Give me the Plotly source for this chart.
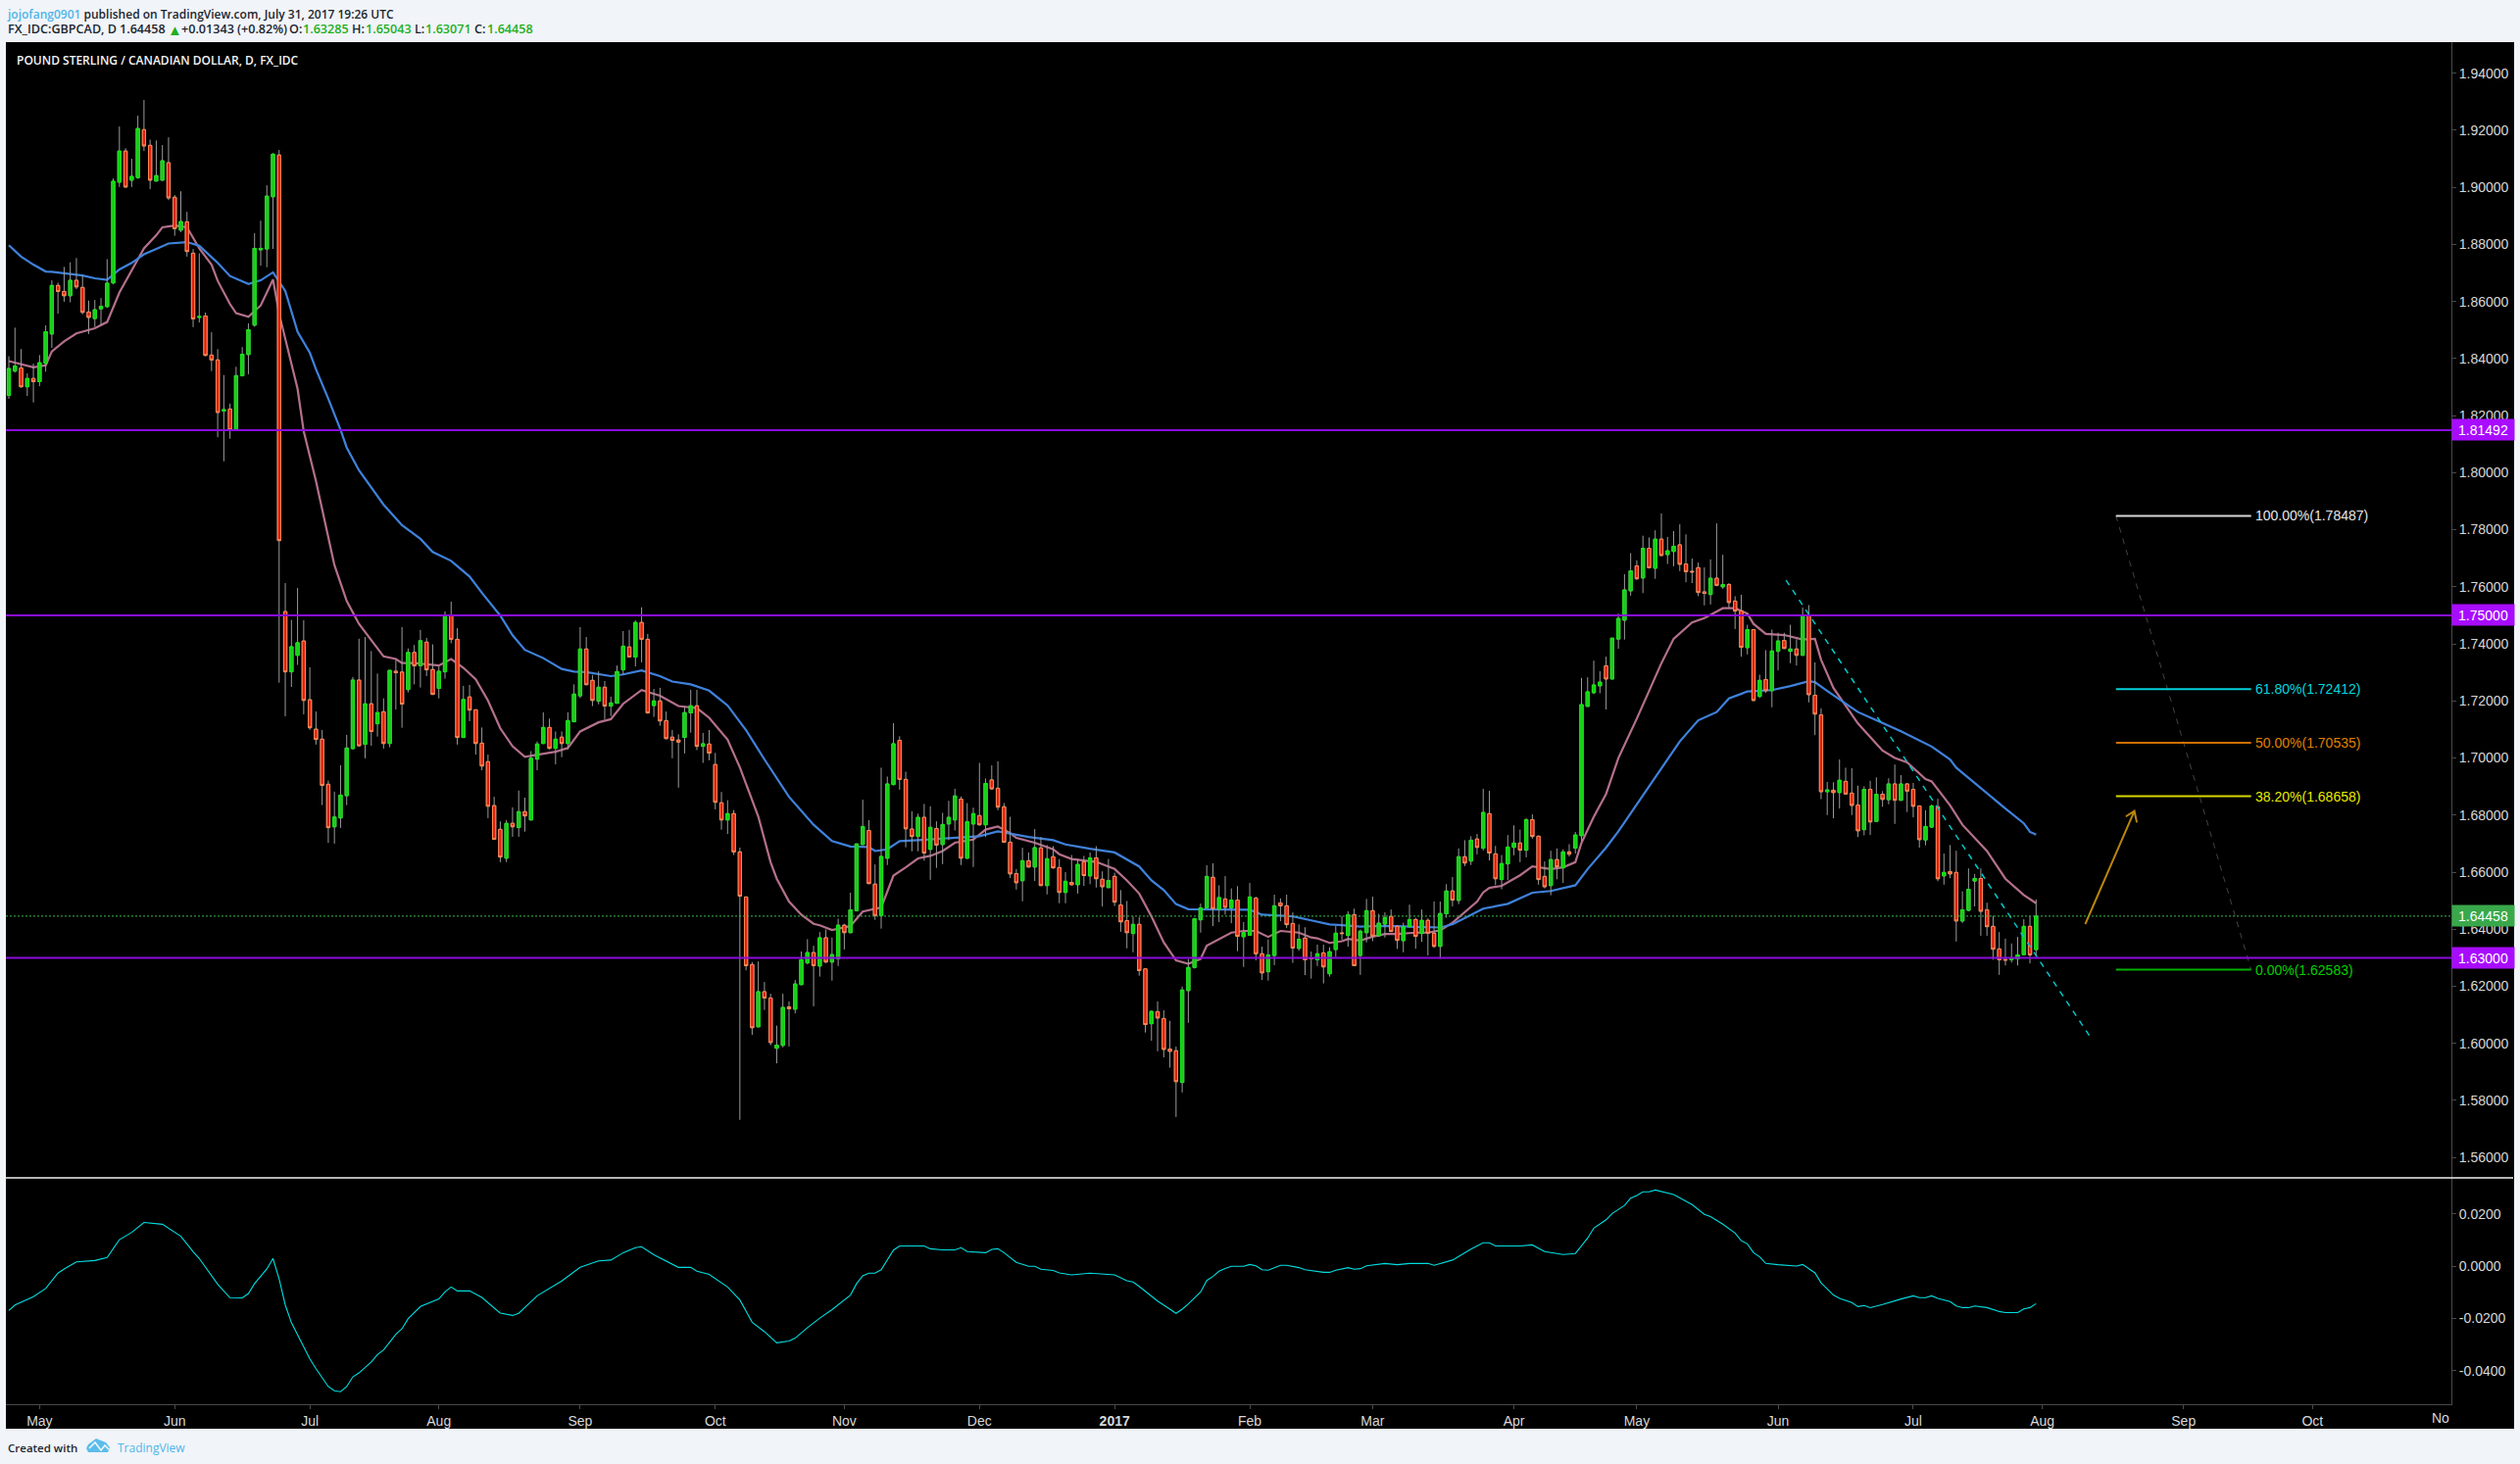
import pandas as pd
import plotly.graph_objects as go

# ---------- session calendar (weekday bars) ----------
FIRST_SESSION = "2016-04-25"
sessions = pd.bdate_range(FIRST_SESSION, periods=420)

# ---------- daily candles, one value per session ----------
opens = [
1.8271,1.8356,1.8367,1.8301,1.8330,1.8319,1.8383,1.8486,1.8656,1.8635,1.8620,1.8674,1.8649,1.8563,1.8540,1.8574,1.8582,1.8665,1.9018,1.9127,
1.9025,1.9034,1.9202,1.9147,1.9022,1.9025,1.9086,1.8965,1.8850,1.8879,1.8769,1.8544,1.8549,1.8412,1.8395,1.8216,1.8223,1.8150,1.8340,1.8414,
1.8517,1.8781,1.8784,1.8967,1.9113,1.7513,1.7302,1.7360,1.7410,1.7204,1.7101,1.7066,1.6908,1.6759,1.6790,1.6868,1.7033,1.7273,1.7048,1.7190,
1.7120,1.7162,1.7051,1.7304,1.7301,1.7240,1.7370,1.7323,1.7406,1.7310,1.7244,1.7302,1.7499,1.7416,1.7072,1.7214,1.7169,1.7052,1.6987,1.6833,
1.6750,1.6649,1.6771,1.6756,1.6812,1.6783,1.6996,1.7051,1.7107,1.7034,1.7073,1.7051,1.7127,1.7218,1.7382,1.7272,1.7199,1.7248,1.7182,1.7192,
1.7309,1.7389,1.7354,1.7475,1.7416,1.7184,1.7200,1.7131,1.7073,1.7063,1.7072,1.7158,1.7183,1.7041,1.7049,1.6977,1.6843,1.6783,1.6805,1.6671,
1.6513,1.6276,1.6058,1.6181,1.6159,1.5983,1.5993,1.6128,1.6120,1.6206,1.6282,1.6318,1.6271,1.6370,1.6285,1.6296,1.6414,1.6388,1.6465,1.6697,
1.6746,1.6558,1.6448,1.6649,1.6907,1.7062,1.6925,1.6751,1.6725,1.6792,1.6680,1.6753,1.6697,1.6769,1.6783,1.6856,1.6649,1.6769,1.6798,1.6766,
1.6923,1.6894,1.6829,1.6705,1.6595,1.6570,1.6640,1.6618,1.6685,1.6553,1.6654,1.6616,1.6529,1.6564,1.6556,1.6636,1.6587,1.6650,1.6575,1.6546,
1.6585,1.6485,1.6430,1.6385,1.6417,1.6261,1.6069,1.6111,1.6087,1.5980,1.5974,1.5863,1.6185,1.6266,1.6433,1.6475,1.6582,1.6470,1.6506,1.6475,
1.6502,1.6374,1.6379,1.6509,1.6314,1.6251,1.6308,1.6492,1.6482,1.6420,1.6333,1.6369,1.6299,1.6293,1.6317,1.6244,1.6329,1.6387,1.6378,1.6451,
1.6308,1.6388,1.6465,1.6377,1.6418,1.6445,1.6410,1.6360,1.6409,1.6434,1.6385,1.6431,1.6386,1.6340,1.6454,1.6534,1.6501,1.6654,1.6639,1.6716,
1.6684,1.6805,1.6664,1.6574,1.6629,1.6687,1.6702,1.6677,1.6784,1.6726,1.6585,1.6553,1.6644,1.6615,1.6671,1.6684,1.6728,1.7181,1.7229,1.7253,
1.7323,1.7277,1.7417,1.7483,1.7586,1.7673,1.7631,1.7735,1.7665,1.7767,1.7713,1.7724,1.7747,1.7680,1.7654,1.7667,1.7582,1.7573,1.7630,1.7600,
1.7608,1.7550,1.7515,1.7387,1.7450,1.7216,1.7275,1.7236,1.7374,1.7412,1.7374,1.7382,1.7360,1.7498,1.7220,1.7151,1.6882,1.6887,1.6879,1.6918,
1.6877,1.6835,1.6749,1.6890,1.6778,1.6873,1.6854,1.6909,1.6852,1.6909,1.6890,1.6832,1.6713,1.6758,1.6829,1.6587,1.6602,1.6599,1.6429,1.6466,
1.6569,1.6578,1.6468,1.6410,1.6331,1.6294,1.6293,1.6296,1.6311,1.6410,1.63285]
highs = [
1.8408,1.8508,1.8433,1.8348,1.8382,1.8412,1.8516,1.8674,1.8666,1.8721,1.8737,1.8752,1.8692,1.8603,1.8605,1.8612,1.8748,1.9031,1.9213,1.9137,
1.9100,1.9251,1.9306,1.9167,1.9164,1.9148,1.9175,1.8973,1.8986,1.8914,1.8784,1.8769,1.8561,1.8492,1.8433,1.8342,1.8242,1.8371,1.8440,1.8523,
1.8839,1.8883,1.9007,1.9120,1.9131,1.7613,1.7484,1.7596,1.7483,1.7318,1.7163,1.7098,1.6921,1.6882,1.6975,1.7081,1.7284,1.7418,1.7424,1.7375,
1.7296,1.7209,1.7308,1.7344,1.7459,1.7384,1.7396,1.7449,1.7421,1.7398,1.7321,1.7514,1.7548,1.7455,1.7253,1.7256,1.7170,1.7107,1.7012,1.6864,
1.6778,1.6783,1.6827,1.6886,1.6861,1.7024,1.7058,1.7160,1.7138,1.7093,1.7093,1.7160,1.7258,1.7459,1.7424,1.7291,1.7304,1.7270,1.7215,1.7324,
1.7445,1.7449,1.7482,1.7528,1.7435,1.7242,1.7246,1.7163,1.7098,1.7083,1.7178,1.7239,1.7239,1.7088,1.7098,1.7018,1.6881,1.6852,1.6818,1.6686,
1.6514,1.6285,1.6287,1.6215,1.6174,1.6062,1.6174,1.6147,1.6222,1.6322,1.6365,1.6342,1.6390,1.6399,1.6371,1.6437,1.6419,1.6528,1.6699,1.6854,
1.6782,1.6627,1.6966,1.6935,1.7122,1.7076,1.6952,1.6813,1.6805,1.6839,1.6831,1.6778,1.6808,1.6850,1.6892,1.6865,1.6842,1.6826,1.6983,1.6928,
1.6974,1.6988,1.6842,1.6794,1.6611,1.6686,1.6669,1.6751,1.6723,1.6695,1.6691,1.6646,1.6600,1.6660,1.6646,1.6657,1.6669,1.6691,1.6603,1.6646,
1.6598,1.6537,1.6499,1.6445,1.6442,1.6263,1.6115,1.6147,1.6116,1.6079,1.5989,1.6199,1.6296,1.6440,1.6490,1.6624,1.6631,1.6554,1.6586,1.6543,
1.6551,1.6425,1.6562,1.6514,1.6339,1.6364,1.6521,1.6508,1.6521,1.6459,1.6417,1.6407,1.6322,1.6346,1.6346,1.6337,1.6411,1.6446,1.6463,1.6472,
1.6399,1.6506,1.6514,1.6454,1.6459,1.6469,1.6414,1.6423,1.6486,1.6440,1.6469,1.6438,1.6497,1.6497,1.6558,1.6583,1.6683,1.6712,1.6726,1.6734,
1.6892,1.6885,1.6692,1.6660,1.6730,1.6764,1.6749,1.6789,1.6803,1.6728,1.6638,1.6675,1.6683,1.6680,1.6698,1.6741,1.7281,1.7283,1.7341,1.7304,
1.7355,1.7421,1.7506,1.7644,1.7718,1.7693,1.7779,1.7773,1.7798,1.7857,1.7775,1.7795,1.7819,1.7784,1.7699,1.7685,1.7668,1.7696,1.7822,1.7712,
1.7613,1.7567,1.7572,1.7467,1.7452,1.7292,1.7378,1.7450,1.7439,1.7439,1.7467,1.7416,1.7527,1.7536,1.7335,1.7174,1.6916,1.6915,1.6995,1.6966,
1.6964,1.6903,1.6901,1.6920,1.6932,1.6884,1.6929,1.6977,1.6940,1.6912,1.6913,1.6834,1.6817,1.6837,1.6857,1.6665,1.6695,1.6675,1.6533,1.6613,
1.6594,1.6613,1.6493,1.6447,1.6390,1.6367,1.6350,1.6373,1.6435,1.6447,1.65043]
lows = [
1.8259,1.8351,1.8298,1.8269,1.8246,1.8303,1.8354,1.8437,1.8557,1.8599,1.8597,1.8643,1.8555,1.8486,1.8511,1.8516,1.8578,1.8660,1.9001,1.8999,
1.9001,1.9030,1.9127,1.8994,1.9020,1.9023,1.8955,1.8830,1.8843,1.8757,1.8510,1.8526,1.8408,1.8356,1.8124,1.8040,1.8119,1.8147,1.8337,1.8345,
1.8511,1.8725,1.8720,1.8784,1.7264,1.7146,1.7249,1.7326,1.7153,1.7099,1.7047,1.6835,1.6703,1.6700,1.6755,1.6835,1.7030,1.7041,1.6999,1.7043,
1.7075,1.7033,1.7038,1.7170,1.7106,1.7230,1.7258,1.7247,1.7287,1.7221,1.7209,1.7278,1.7402,1.7047,1.7070,1.7129,1.7012,1.6957,1.6789,1.6713,
1.6635,1.6635,1.6724,1.6724,1.6742,1.6781,1.6957,1.7049,1.7030,1.6978,1.7003,1.7030,1.7125,1.7210,1.7255,1.7182,1.7188,1.7136,1.7147,1.7190,
1.7293,1.7352,1.7321,1.7335,1.7155,1.7144,1.7113,1.7066,1.6999,1.6896,1.7016,1.7089,1.7028,1.6983,1.6992,1.6820,1.6749,1.6734,1.6660,1.5732,
1.6256,1.6030,1.6056,1.6117,1.5993,1.5930,1.5986,1.5989,1.6105,1.6204,1.6277,1.6130,1.6234,1.6282,1.6220,1.6271,1.6329,1.6386,1.6462,1.6695,
1.6558,1.6433,1.6402,1.6625,1.6904,1.6889,1.6687,1.6673,1.6673,1.6640,1.6573,1.6615,1.6628,1.6712,1.6746,1.6625,1.6646,1.6618,1.6763,1.6723,
1.6889,1.6817,1.6703,1.6579,1.6539,1.6498,1.6616,1.6569,1.6552,1.6522,1.6612,1.6491,1.6491,1.6554,1.6525,1.6552,1.6558,1.6546,1.6480,1.6544,
1.6481,1.6391,1.6333,1.6319,1.6237,1.6038,1.6009,1.5972,1.5951,1.5915,1.5742,1.5828,1.6072,1.6262,1.6388,1.6473,1.6411,1.6425,1.6451,1.6421,
1.6323,1.6268,1.6377,1.6291,1.6222,1.6220,1.6274,1.6428,1.6404,1.6282,1.6325,1.6239,1.6227,1.6271,1.6210,1.6234,1.6303,1.6362,1.6339,1.6271,
1.6240,1.6354,1.6358,1.6374,1.6371,1.6390,1.6331,1.6319,1.6406,1.6332,1.6356,1.6308,1.6335,1.6296,1.6440,1.6480,1.6488,1.6621,1.6625,1.6662,
1.6676,1.6641,1.6554,1.6540,1.6572,1.6659,1.6635,1.6652,1.6717,1.6556,1.6543,1.6519,1.6575,1.6562,1.6655,1.6665,1.6708,1.7181,1.7224,1.7227,
1.7170,1.7275,1.7383,1.7415,1.7569,1.7624,1.7578,1.7664,1.7628,1.7707,1.7680,1.7672,1.7655,1.7616,1.7613,1.7567,1.7535,1.7538,1.7602,1.7593,
1.7527,1.7452,1.7355,1.7363,1.7198,1.7210,1.7229,1.7178,1.7307,1.7382,1.7332,1.7324,1.7358,1.7195,1.7080,1.6856,1.6800,1.6789,1.6823,1.6872,
1.6800,1.6723,1.6729,1.6730,1.6777,1.6829,1.6838,1.6769,1.6849,1.6811,1.6792,1.6686,1.6694,1.6755,1.6568,1.6556,1.6579,1.6357,1.6422,1.6463,
1.6480,1.6377,1.6377,1.6293,1.6240,1.6273,1.6283,1.6273,1.6309,1.6280,1.63071]
closes = [
1.8365,1.8374,1.8301,1.8330,1.8319,1.8385,1.8494,1.8656,1.8635,1.8620,1.8674,1.8651,1.8562,1.8544,1.8571,1.8583,1.8664,1.9021,1.9127,1.9001,
1.9038,1.9206,1.9145,1.9025,1.9041,1.9093,1.8963,1.8855,1.8880,1.8775,1.8539,1.8547,1.8411,1.8395,1.8211,1.8221,1.8150,1.8340,1.8415,1.8501,
1.8786,1.8786,1.8969,1.9116,1.7762,1.7302,1.7390,1.7404,1.7202,1.7106,1.7065,1.6904,1.6756,1.6793,1.6870,1.7035,1.7273,1.7043,1.7190,1.7093,
1.7159,1.7051,1.7307,1.7299,1.7189,1.7370,1.7323,1.7411,1.7309,1.7223,1.7304,1.7499,1.7416,1.7072,1.7205,1.7168,1.7051,1.6972,1.6831,1.6715,
1.6653,1.6771,1.6759,1.6812,1.6797,1.6999,1.7049,1.7107,1.7034,1.7066,1.7051,1.7131,1.7224,1.7382,1.7257,1.7202,1.7248,1.7182,1.7193,1.7303,
1.7392,1.7354,1.7475,1.7416,1.7158,1.7200,1.7130,1.7068,1.7062,1.7056,1.7159,1.7183,1.7041,1.7050,1.7017,1.6845,1.6783,1.6805,1.6671,1.6516,
1.6272,1.6055,1.6181,1.6159,1.6003,1.5994,1.6126,1.6121,1.6208,1.6293,1.6318,1.6272,1.6370,1.6285,1.6311,1.6414,1.6388,1.6468,1.6699,1.6760,
1.6560,1.6448,1.6655,1.6909,1.7050,1.6925,1.6752,1.6725,1.6792,1.6667,1.6757,1.6695,1.6767,1.6792,1.6867,1.6649,1.6777,1.6805,1.6766,1.6911,
1.6892,1.6828,1.6705,1.6594,1.6563,1.6640,1.6618,1.6686,1.6553,1.6647,1.6615,1.6529,1.6568,1.6556,1.6627,1.6588,1.6650,1.6577,1.6549,1.6571,
1.6495,1.6426,1.6388,1.6417,1.6255,1.6066,1.6112,1.6089,1.5979,1.5972,1.5866,1.6187,1.6266,1.6437,1.6475,1.6585,1.6472,1.6511,1.6477,1.6502,
1.6375,1.6388,1.6513,1.6314,1.6247,1.6310,1.6482,1.6482,1.6416,1.6334,1.6365,1.6293,1.6297,1.6314,1.6268,1.6321,1.6386,1.6385,1.6451,1.6272,
1.6393,1.6465,1.6376,1.6421,1.6441,1.6392,1.6361,1.6408,1.6434,1.6375,1.6431,1.6386,1.6340,1.6455,1.6534,1.6502,1.6654,1.6632,1.6712,1.6687,
1.6809,1.6667,1.6577,1.6630,1.6688,1.6702,1.6677,1.6784,1.6725,1.6574,1.6549,1.6644,1.6619,1.6671,1.6663,1.6730,1.7187,1.7232,1.7256,1.7266,
1.7277,1.7420,1.7489,1.7589,1.7656,1.7628,1.7735,1.7667,1.7767,1.7710,1.7726,1.7742,1.7679,1.7653,1.7652,1.7580,1.7577,1.7630,1.7605,1.7608,
1.7545,1.7515,1.7388,1.7450,1.7202,1.7272,1.7236,1.7375,1.7410,1.7384,1.7382,1.7360,1.7498,1.7222,1.7154,1.6882,1.6888,1.6879,1.6922,1.6874,
1.6834,1.6745,1.6890,1.6776,1.6873,1.6855,1.6909,1.6852,1.6909,1.6884,1.6831,1.6714,1.6760,1.6832,1.6577,1.6599,1.6594,1.6429,1.6468,1.6540,
1.6578,1.6463,1.6409,1.6330,1.6293,1.6292,1.6297,1.6310,1.6410,1.6310,1.64458]

# ---------- moving averages: session number (1 = first candle) and value ----------
ma_fast_session = [1,3,5,7,8,10,12,15,17,19,21,23,25,26,28,30,32,34,35,37,38,40,42,43,44,45,46,48,49,51,54,56,58,62,64,65,67,71,73,75,77,79,81,83,85,88,90,92,94,97,99,101,104,107,110,113,115,118,120,123,125,126,128,130,132,133,135,138,140,143,144,145,147,149,151,153,155,158,160,162,164,165,168,171,172,174,178,181,183,185,187,189,191,193,195,196,200,202,204,206,208,211,213,214,216,218,219,221,223,225,227,230,232,234,236,239,240,241,242,244,247,249,252,254,256,257,259,261,263,266,270,272,275,277,280,282,284,285,287,290,293,295,296,298,302,306,308,310,313,314,317,319,323,326,329,331]
ma_fast_value = [1.8391,1.8380,1.8369,1.8376,1.8425,1.8460,1.8488,1.8506,1.8528,1.8631,1.8706,1.8786,1.8832,1.8860,1.8866,1.8860,1.8786,1.8729,1.8672,1.8591,1.8559,1.8546,1.8586,1.8631,1.8677,1.8557,1.8466,1.8294,1.8145,1.7970,1.7676,1.7550,1.7470,1.7356,1.7347,1.7333,1.7333,1.7324,1.7347,1.7316,1.7276,1.7201,1.7104,1.7041,1.7004,1.7015,1.7022,1.7035,1.7093,1.7125,1.7136,1.7190,1.7238,1.7218,1.7182,1.7175,1.7141,1.7064,1.6967,1.6795,1.6635,1.6577,1.6497,1.6451,1.6419,1.6414,1.6397,1.6411,1.6462,1.6476,1.6531,1.6588,1.6617,1.6648,1.6657,1.6674,1.6703,1.6714,1.6749,1.6760,1.6737,1.6720,1.6703,1.6680,1.6663,1.6646,1.6636,1.6611,1.6571,1.6525,1.6445,1.6354,1.6291,1.6279,1.6296,1.6342,1.6388,1.6394,1.6394,1.6373,1.6394,1.6388,1.6371,1.6368,1.6352,1.6358,1.6366,1.6360,1.6374,1.6383,1.6383,1.6388,1.6388,1.6396,1.6423,1.6480,1.6497,1.6529,1.6545,1.6552,1.6589,1.6620,1.6611,1.6617,1.6635,1.6703,1.6794,1.6874,1.7000,1.7138,1.7332,1.7418,1.7475,1.7490,1.7525,1.7525,1.7506,1.7470,1.7435,1.7431,1.7415,1.7418,1.7344,1.7246,1.7121,1.7026,1.7000,1.6985,1.6926,1.6918,1.6834,1.6766,1.6674,1.6577,1.6520,1.6491]
ma_slow_session = [1,3,5,7,8,11,13,15,17,19,21,23,25,27,30,32,33,35,37,39,40,42,44,46,47,48,50,51,53,55,56,58,62,65,68,70,73,76,78,81,83,85,88,91,93,95,99,101,104,107,109,112,115,118,121,124,128,132,135,138,141,142,144,146,149,153,156,159,162,164,167,171,173,177,181,185,187,189,191,193,197,203,205,210,213,216,218,221,223,227,230,234,236,238,241,245,249,252,254,256,258,261,263,267,270,273,276,279,281,284,288,291,294,295,297,302,305,309,314,317,318,323,326,329,330,331]
ma_slow_value = [1.8797,1.8757,1.8729,1.8705,1.8704,1.8697,1.8691,1.8681,1.8676,1.8712,1.8735,1.8765,1.8784,1.8803,1.8808,1.8795,1.8775,1.8735,1.8689,1.8669,1.8661,1.8674,1.8702,1.8637,1.8563,1.8494,1.8420,1.8362,1.8259,1.8150,1.8088,1.8008,1.7888,1.7816,1.7768,1.7722,1.7691,1.7636,1.7579,1.7499,1.7430,1.7379,1.7350,1.7312,1.7303,1.7301,1.7287,1.7293,1.7307,1.7287,1.7268,1.7258,1.7236,1.7184,1.7098,1.6995,1.6864,1.6766,1.6709,1.6690,1.6688,1.6674,1.6680,1.6709,1.6712,1.6717,1.6722,1.6726,1.6743,1.6734,1.6723,1.6712,1.6697,1.6682,1.6669,1.6620,1.6571,1.6537,1.6488,1.6470,1.6470,1.6468,1.6451,1.6445,1.6431,1.6417,1.6414,1.6409,1.6411,1.6411,1.6408,1.6406,1.6417,1.6438,1.6472,1.6489,1.6528,1.6534,1.6545,1.6554,1.6611,1.6686,1.6743,1.6869,1.6966,1.7058,1.7132,1.7161,1.7209,1.7233,1.7238,1.7252,1.7269,1.7266,1.7235,1.7161,1.7132,1.7094,1.7040,1.6995,1.6966,1.6875,1.6823,1.6771,1.6741,1.6731]

# ---------- lower oscillator ----------
osc_session = [1,2,5,7,9,10,12,15,17,19,21,23,26,28,29,31,32,35,37,39,40,41,43,44,45,46,47,50,51,53,54,55,56,57,58,60,61,62,64,65,66,68,69,71,72,73,74,76,78,81,83,84,87,89,91,94,97,99,101,103,104,106,110,112,113,115,117,118,120,122,124,126,128,129,131,133,135,138,139,140,141,142,143,144,145,146,148,150,151,153,155,156,157,160,161,162,163,165,167,168,169,171,172,174,177,181,183,184,185,187,188,190,191,192,193,195,196,197,198,199,200,202,203,204,205,206,208,209,211,212,215,216,217,219,220,221,222,225,227,229,232,233,236,239,241,242,243,247,249,251,254,256,258,259,261,262,264,265,266,267,268,269,272,275,277,278,280,282,283,284,285,286,287,289,292,293,295,296,298,299,301,302,303,304,306,309,311,312,313,314,315,317,318,319,320,321,323,325,326,328,329,330,331]
osc_value = [-0.0170,-0.0149,-0.0117,-0.0086,-0.0027,-0.0011,0.0016,0.0021,0.0033,0.0101,0.0129,0.0167,0.0160,0.0129,0.0114,0.0055,0.0029,-0.0070,-0.0121,-0.0122,-0.0105,-0.0067,-0.0011,0.0029,-0.0049,-0.0149,-0.0217,-0.0355,-0.0393,-0.0461,-0.0477,-0.0481,-0.0461,-0.0424,-0.0409,-0.0367,-0.0339,-0.0321,-0.0261,-0.0240,-0.0201,-0.0155,-0.0145,-0.0126,-0.0099,-0.0080,-0.0095,-0.0095,-0.0120,-0.0180,-0.0189,-0.0181,-0.0114,-0.0084,-0.0057,-0.0005,0.0020,0.0023,0.0051,0.0070,0.0074,0.0043,-0.0005,-0.0005,-0.0020,-0.0032,-0.0065,-0.0080,-0.0130,-0.0215,-0.0251,-0.0294,-0.0287,-0.0276,-0.0236,-0.0199,-0.0167,-0.0111,-0.0067,-0.0037,-0.0027,-0.0027,-0.0014,0.0026,0.0061,0.0077,0.0076,0.0077,0.0066,0.0062,0.0062,0.0070,0.0055,0.0051,0.0064,0.0066,0.0051,0.0014,-0.0001,-0.0001,-0.0012,-0.0017,-0.0026,-0.0034,-0.0027,-0.0034,-0.0056,-0.0061,-0.0078,-0.0115,-0.0134,-0.0165,-0.0181,-0.0165,-0.0145,-0.0099,-0.0055,-0.0040,-0.0020,-0.0009,-0.0001,-0.0001,0.0006,0.0001,-0.0014,-0.0016,0.0003,0.0003,-0.0006,-0.0014,-0.0024,-0.0024,-0.0016,-0.0006,-0.0012,-0.0010,0.0001,0.0010,0.0005,0.0010,0.0010,0.0003,0.0023,0.0065,0.0089,0.0089,0.0077,0.0077,0.0081,0.0055,0.0044,0.0048,0.0107,0.0145,0.0177,0.0201,0.0232,0.0260,0.0270,0.0284,0.0284,0.0291,0.0274,0.0235,0.0198,0.0189,0.0160,0.0126,0.0097,0.0085,0.0051,0.0035,0.0010,0.0005,0.0000,0.0006,-0.0026,-0.0064,-0.0111,-0.0124,-0.0140,-0.0155,-0.0151,-0.0159,-0.0147,-0.0126,-0.0114,-0.0121,-0.0121,-0.0114,-0.0124,-0.0136,-0.0153,-0.0159,-0.0159,-0.0153,-0.0159,-0.0174,-0.0178,-0.0178,-0.0164,-0.0159,-0.0144]

# ---------- levels, fibonacci, drawings ----------
support_levels = [1.81492, 1.75000, 1.63000]
last_price = 1.64458
fib_labels = ["100.00%(1.78487)", "61.80%(1.72412)", "50.00%(1.70535)", "38.20%(1.68658)", "0.00%(1.62583)"]
fib_values = [1.78487, 1.72412, 1.70535, 1.68658, 1.62583]
fib_colors = ["#D8D8D8", "#00D0D8", "#D07000", "#D8D800", "#00B000"]
fib_text_colors = ["#E8E8E8", "#00D8DC", "#E08000", "#EAEA00", "#00D000"]
fib_sessions = [343, 365]                      # counted from the first candle (0)
trend_sessions = [289.3, 338.9]
trend_values = [1.7623, 1.6020]
arrow_sessions = [338, 346, 344.6, 346, 346.4]
arrow_values = [1.6418, 1.6814, 1.6795, 1.6814, 1.6774]

price_ticks = [1.56, 1.58, 1.60, 1.62, 1.64, 1.66, 1.68, 1.70, 1.72, 1.74, 1.76, 1.78,
               1.80, 1.82, 1.84, 1.86, 1.88, 1.90, 1.92, 1.94]
osc_ticks = [0.02, 0.0, -0.02, -0.04]
month_ticks = ["2016-05-02", "2016-06-01", "2016-07-01", "2016-08-01", "2016-09-01", "2016-10-03",
               "2016-11-01", "2016-12-01", "2017-01-02", "2017-02-01", "2017-03-01", "2017-04-03",
               "2017-05-01", "2017-06-01", "2017-07-03", "2017-08-01", "2017-09-01", "2017-10-02"]
month_labels = ["May", "Jun", "Jul", "Aug", "Sep", "Oct", "Nov", "Dec", "<b>2017</b>", "Feb", "Mar", "Apr",
                "May", "Jun", "Jul", "Aug", "Sep", "Oct"]

# ---------- layout geometry ----------
W, H = 2571, 1494
PL, PR, PT, PB = 6, 2501, 43, 1433
SPLIT = 1202
PAGE = "#F1F4F8"
TXT = "#D8D8D8"
AXIS = "#4A4A4A"
FONT = "Liberation Sans"
INK = "#1C2630"
UP = "#1FAF1F"


def px(x):
    return (x - PL) / (PR - PL)


def py(y):
    return (PB - y) / (PB - PT)


def sess(f):
    """Timestamp for a (possibly fractional) session number; bars sit at midday."""
    k = int(f + 0.5)
    return sessions[k] + pd.Timedelta(hours=12) + pd.Timedelta(days=f - k)


def midday(day):
    return pd.Timestamp(day) + pd.Timedelta(hours=12)


bar_x = [sess(i) for i in range(len(opens))]
assert len(opens) == len(highs) == len(lows) == len(closes) == 331
assert len(ma_fast_session) == len(ma_fast_value)
assert len(ma_slow_session) == len(ma_slow_value)
assert len(osc_session) == len(osc_value)

fig = go.Figure()

# Moving averages sit below the candles
fig.add_trace(go.Scatter(x=[sess(s - 1) for s in ma_fast_session], y=ma_fast_value, mode="lines",
                         line=dict(color="#B4708C", width=2.2), xaxis="x", yaxis="y", hoverinfo="skip"))
fig.add_trace(go.Scatter(x=[sess(s - 1) for s in ma_slow_session], y=ma_slow_value, mode="lines",
                         line=dict(color="#3F82DC", width=2.2), xaxis="x", yaxis="y", hoverinfo="skip"))

# Wicks
fig.add_trace(go.Candlestick(x=bar_x, open=opens, high=highs, low=lows, close=closes,
                             increasing=dict(line=dict(color="#9A9A9A", width=1), fillcolor="#1FC81F"),
                             decreasing=dict(line=dict(color="#9A9A9A", width=1), fillcolor="#E0200F"),
                             whiskerwidth=0, xaxis="x", yaxis="y3", hoverinfo="skip"))
# Bodies with their coloured outline
fig.add_trace(go.Candlestick(x=bar_x, open=opens, close=closes,
                             high=[max(o, c) for o, c in zip(opens, closes)],
                             low=[min(o, c) for o, c in zip(opens, closes)],
                             increasing=dict(line=dict(color="#10E810", width=1), fillcolor="#1FC81F"),
                             decreasing=dict(line=dict(color="#FF8855", width=1), fillcolor="#E0200F"),
                             whiskerwidth=0, xaxis="x", yaxis="y3", hoverinfo="skip"))

# Trend line, forecast arrow, fibonacci drawing
fig.add_trace(go.Scatter(x=[sess(s) for s in trend_sessions], y=trend_values, mode="lines",
                         line=dict(color="#00C8CC", width=1.5, dash="6px,6px"),
                         xaxis="x", yaxis="y3", hoverinfo="skip"))
fig.add_trace(go.Scatter(x=[sess(fib_sessions[0]), sess(fib_sessions[1])], y=[fib_values[0], fib_values[-1]],
                         mode="lines", line=dict(color="#444444", width=1, dash="6px,6px"),
                         xaxis="x", yaxis="y3", hoverinfo="skip"))
fig.add_trace(go.Scatter(x=[sess(s) for s in arrow_sessions], y=arrow_values, mode="lines",
                         line=dict(color="#B8860B", width=2), xaxis="x", yaxis="y3", hoverinfo="skip"))
for v, c in zip(fib_values, fib_colors):
    fig.add_trace(go.Scatter(x=[sess(fib_sessions[0]), sess(fib_sessions[1])], y=[v, v], mode="lines",
                             line=dict(color=c, width=2), xaxis="x", yaxis="y3", hoverinfo="skip"))

# Oscillator
fig.add_trace(go.Scatter(x=[sess(s - 1) for s in osc_session], y=osc_value, mode="lines",
                         line=dict(color="#00DDE0", width=1.1), xaxis="x", yaxis="y2", hoverinfo="skip"))

price_range = [1.62 + (1006.5 - SPLIT) / 2912, 1.62 + (1006.5 - PT) / 2912]
osc_range = [(1292 - PB) / 2667, (1292 - SPLIT) / 2667]

shapes = [
    # black panel, including the axis gutters
    dict(type="rect", xref="paper", yref="paper", x0=px(PL), x1=px(2565), y0=py(1458), y1=py(PT),
         fillcolor="#000000", line=dict(width=0), layer="below"),
    # pane separator
    dict(type="line", xref="paper", yref="paper", x0=px(PL), x1=px(2564), y0=py(SPLIT), y1=py(SPLIT),
         line=dict(color="#F0F0F0", width=1.5)),
    # Created-with logo
    dict(type="path", xref="paper", yref="paper", layer="above", fillcolor="#5BBDEA", line=dict(width=0),
         path=f"M {px(88)} {py(1478)} L {px(90)} {py(1474)} L {px(98)} {py(1468)} L {px(103)} {py(1470)} "
              f"L {px(108)} {py(1472)} L {px(112)} {py(1477)} L {px(110)} {py(1482)} L {px(90)} {py(1482)} Z"),
    dict(type="path", xref="paper", yref="paper", layer="above", line=dict(color=PAGE, width=1.6),
         path=f"M {px(91)} {py(1478)} L {px(97)} {py(1472)} L {px(103)} {py(1480)} L {px(107)} {py(1475)} L {px(111)} {py(1479)}"),
]
for v in support_levels:
    shapes.append(dict(type="line", xref="paper", yref="y", x0=0, x1=1, y0=v, y1=v,
                       line=dict(color="#8A0CDC", width=2)))
shapes.append(dict(type="line", xref="paper", yref="y", x0=0, x1=1, y0=last_price, y1=last_price,
                   line=dict(color="#3FB950", width=1, dash="2px,2px")))


def header(x, y, text, size=12, color=INK, weight=600, anchor="left"):
    return dict(xref="paper", yref="paper", x=px(x), y=py(y), xanchor=anchor, yanchor="middle",
                showarrow=False, text=text, align="left",
                font=dict(family="Open Sans", size=size, color=color, weight=weight))


annotations = [
    header(5, 14, '<span style="color:#4FB6EA">jojofang0901</span> published on TradingView.com, July 31, 2017 19:26 UTC'),
    header(15, 61, 'POUND STERLING / CANADIAN DOLLAR, D, FX_IDC', color="#F4F4F4"),
    header(6, 1477, 'Created with', size=11.5),
    header(118, 1477, 'TradingView', color="#4FB6EA", weight=500),
    dict(xref="paper", yref="paper", x=px(2501), y=py(1447), xanchor="right", yanchor="middle", showarrow=False,
         text="No", font=dict(family=FONT, size=14, color=TXT)),
]
# quote line, each field at its own left edge
for x, text, color in [(6, "FX_IDC:GBPCAD, D", INK), (120, "1.64458", INK), (169, "▲", UP),
                       (183, "+0.01343", INK), (240, "(+0.82%)", INK),
                       (293, "O:", INK), (307, "1.63285", UP), (357, "H:", INK), (371, "1.65043", UP),
                       (421, "L:", INK), (432, "1.63071", UP), (482, "C:", INK), (495, "1.64458", UP)]:
    annotations.append(header(x, 30, text, size=15 if text == "▲" else 12.6, color=color))

for label, v, c in zip(fib_labels, fib_values, fib_text_colors):
    annotations.append(dict(xref="x", yref="y", x=sess(fib_sessions[1]), y=v, xanchor="left", yanchor="middle",
                            xshift=2, showarrow=False, text=label, font=dict(family=FONT, size=14, color=c)))
for v, c in [(support_levels[0], "#A80CFF"), (support_levels[1], "#A80CFF"), (support_levels[2], "#A80CFF"),
             (last_price, "#39A84A")]:
    annotations.append(dict(xref="paper", yref="y", x=1, y=v, xanchor="left", yanchor="middle", showarrow=False,
                            text=f"{v:.5f}", width=63, height=21, bgcolor=c, borderpad=0,
                            font=dict(family=FONT, size=14, color="#FFFFFF")))

y_common = dict(side="right", showgrid=False, zeroline=False, showline=True, linecolor=AXIS, linewidth=1,
                ticks="outside", ticklen=4, tickcolor=AXIS, tickfont=dict(family=FONT, size=14, color=TXT),
                anchor="x", fixedrange=True)

fig.update_layout(
    width=W, height=H, paper_bgcolor=PAGE, plot_bgcolor="#000000", showlegend=False, dragmode=False,
    margin=dict(l=PL, r=W - PR, t=PT, b=H - PB, pad=0, autoexpand=False),
    boxgap=0.25,
    xaxis=dict(type="date", anchor="y2", range=[pd.Timestamp("2016-04-25 00:29"), sess(397.6)],
               rangebreaks=[dict(bounds=["sat", "mon"])], rangeslider=dict(visible=False),
               tickmode="array", tickvals=[midday(d) for d in month_ticks], ticktext=month_labels,
               showgrid=False, zeroline=False, showline=True, linecolor=AXIS, linewidth=1,
               ticks="outside", ticklen=4, tickcolor=AXIS, tickangle=0,
               tickfont=dict(family=FONT, size=14, color=TXT)),
    yaxis=dict(domain=[py(SPLIT), 1], range=price_range, tickmode="array", tickvals=price_ticks,
               ticktext=[f"{t:.5f}" for t in price_ticks], **y_common),
    yaxis2=dict(domain=[0, py(SPLIT)], range=osc_range, tickmode="array", tickvals=osc_ticks,
                ticktext=[f"{t:.4f}" for t in osc_ticks], **y_common),
    yaxis3=dict(domain=[py(SPLIT), 1], range=price_range, overlaying="y", side="right", visible=False,
                anchor="x", fixedrange=True),
    shapes=shapes,
    annotations=annotations,
)

fig.write_html("out.html", config=dict(displayModeBar=False),
               post_script="document.body.style.margin='0';document.body.style.background='%s';" % PAGE)
